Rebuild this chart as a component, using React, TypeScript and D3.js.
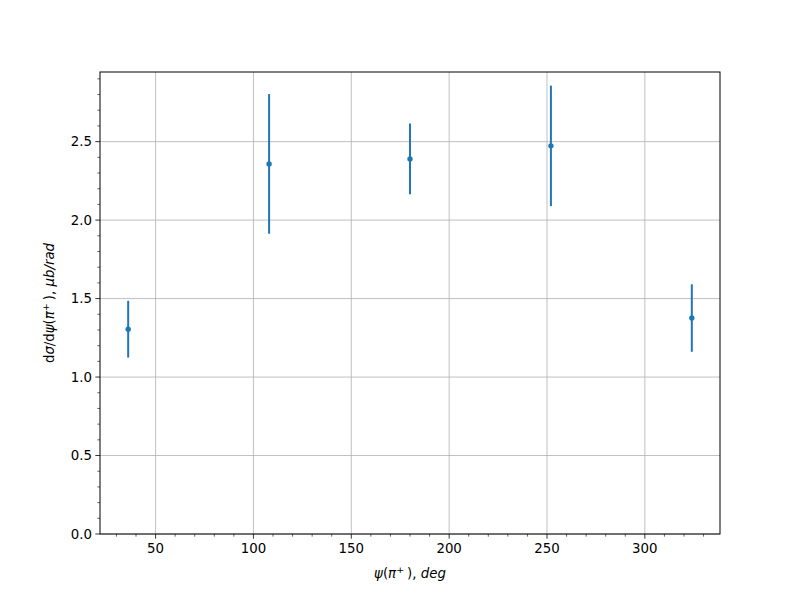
import React from "react";
import * as d3 from "d3";

const psi = [36, 108, 180, 252, 324];
const sigma = [1.305, 2.358, 2.39, 2.473, 1.376];
const errors = [0.181, 0.445, 0.225, 0.384, 0.215];
const xTicks = [50, 100, 150, 200, 250, 300];
const yTicks = [0, 0.5, 1.0, 1.5, 2.0, 2.5];

const W = 800, H = 600;
const L = 100, R = 720, T = 72, B = 534;
const color = "#1f77b4";
const font = "DejaVu Sans, sans-serif";

export default function App() {
  const x = d3.scaleLinear().domain([21.6, 338.4]).range([L, R]);
  const yMax = d3.max(sigma.map((s, i) => s + errors[i]))!;
  const yMin = d3.min(sigma.map((s, i) => s - errors[i]))!;
  const y = d3.scaleLinear().domain([0, yMax + 0.05 * (yMax - yMin)]).range([B, T]);
  const xMinor = d3.range(30, 340, 10).filter((v) => v % 50 !== 0 && v >= 21.6 && v <= 338.4);
  const yMinor = d3.range(0, 2.95, 0.1).map((v) => +v.toFixed(2)).filter((v) => Math.abs(v * 2 - Math.round(v * 2)) > 1e-6);
  return (
    <svg width={W} height={H} style={{ display: "block", position: "absolute", left: 0, top: 0 }}>
      <rect width={W} height={H} fill="white" />
      {xTicks.map((t) => (
        <line key={"gx" + t} x1={x(t)} x2={x(t)} y1={T} y2={B} stroke="#b0b0b0" strokeWidth={0.8} />
      ))}
      {yTicks.map((t) => (
        <line key={"gy" + t} x1={L} x2={R} y1={y(t)} y2={y(t)} stroke="#b0b0b0" strokeWidth={0.8} />
      ))}
      {psi.map((p, i) => (
        <g key={"p" + i}>
          <line x1={x(p)} x2={x(p)} y1={y(sigma[i] - errors[i])} y2={y(sigma[i] + errors[i])} stroke={color} strokeWidth={2} />
          <circle cx={x(p)} cy={y(sigma[i])} r={2.7} fill={color} />
        </g>
      ))}
      <rect x={L} y={T} width={R - L} height={B - T} fill="none" stroke="black" strokeWidth={1} />
      {xTicks.map((t) => (
        <g key={"xt" + t}>
          <line x1={x(t)} x2={x(t)} y1={B} y2={B + 4.67} stroke="black" strokeWidth={0.8} />
          <text x={x(t)} y={B + 19} textAnchor="middle" fontFamily={font} fontSize={13.33}>{t}</text>
        </g>
      ))}
      {xMinor.map((t) => (
        <line key={"xm" + t} x1={x(t)} x2={x(t)} y1={B} y2={B + 2.67} stroke="black" strokeWidth={0.6} />
      ))}
      {yTicks.map((t) => (
        <g key={"yt" + t}>
          <line x1={L} x2={L - 4.67} y1={y(t)} y2={y(t)} stroke="black" strokeWidth={0.8} />
          <text x={L - 8} y={y(t) + 4.8} textAnchor="end" fontFamily={font} fontSize={13.33}>{t.toFixed(1)}</text>
        </g>
      ))}
      {yMinor.map((t) => (
        <line key={"ym" + t} x1={L} x2={L - 2.67} y1={y(t)} y2={y(t)} stroke="black" strokeWidth={0.6} />
      ))}
      <text x={(L + R) / 2} y={578} textAnchor="middle" fontFamily={font} fontSize={13.33}>
        <tspan fontStyle="italic">ψ</tspan>
        <tspan>(</tspan>
        <tspan fontStyle="italic">π</tspan>
        <tspan fontSize={9.5} dy={-5}>+</tspan>
        <tspan dy={5} dx={3}>), </tspan>
        <tspan fontStyle="italic">deg</tspan>
      </text>
      <text transform={`translate(54,${(T + B) / 2}) rotate(-90)`} textAnchor="middle" fontFamily={font} fontSize={13.33}>
        <tspan>d</tspan>
        <tspan fontStyle="italic">σ</tspan>
        <tspan>/d</tspan>
        <tspan fontStyle="italic">ψ</tspan>
        <tspan>(</tspan>
        <tspan fontStyle="italic">π</tspan>
        <tspan fontSize={9.5} dy={-5}>+</tspan>
        <tspan dy={5} dx={3}>), </tspan>
        <tspan fontStyle="italic">μb</tspan>
        <tspan fontStyle="italic">/rad</tspan>
      </text>
    </svg>
  );
}
